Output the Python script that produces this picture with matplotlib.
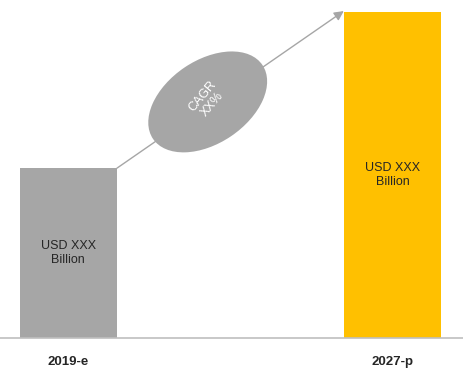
import matplotlib.pyplot as plt
from matplotlib.patches import Ellipse
from matplotlib.transforms import IdentityTransform

years = ['2019-e', '2027-p']
values = [100, 192]
bar_labels = ['USD XXX\nBillion', 'USD XXX\nBillion']
bar_colors = ['#A6A6A6', '#FFC000']
cagr_label = 'CAGR\nXX%'

plt.rcParams['font.family'] = ['Liberation Sans', 'DejaVu Sans']

fig = plt.figure(figsize=(4.64, 3.83), dpi=100)
ax = fig.add_axes([0, 45 / 383, 1, 338 / 383])

x = [0, 1]
width = 0.3
ax.bar(x, values, width=width, color=bar_colors, zorder=2)
for xi, v, lab in zip(x, values, bar_labels):
    ax.text(xi, v / 2, lab, ha='center', va='center', fontsize=9,
            color='#262626', linespacing=1.3)

ax.set_xlim(-0.211, 1.221)
ax.set_ylim(0, 199)

# growth arrow between bar tops
ax.annotate('', xy=(1 - width / 2, values[1] + 0.5), xytext=(width / 2, values[0]),
            arrowprops=dict(arrowstyle='-|>', color='#A6A6A6', lw=1,
                            mutation_scale=14, shrinkA=0, shrinkB=0), zorder=3)

fig.canvas.draw()
cx, cy = ax.transData.transform((0.43, 139))
ell = Ellipse((cx, cy), 132, 83, angle=34, facecolor='#A6A6A6',
              edgecolor='none', transform=IdentityTransform(), zorder=4)
ax.add_artist(ell)
ax.text(0.43, 140, cagr_label, ha='center', va='center', rotation=50,
        fontsize=9, color='white', zorder=5, linespacing=1.1,
        family=['Liberation Sans Narrow', 'Liberation Sans', 'DejaVu Sans'])

ax.set_xticks(x)
ax.set_xticklabels(years, fontsize=9.5, fontweight='bold', color='#262626')
ax.tick_params(axis='x', length=0, pad=13)
ax.set_yticks([])
for s in ['top', 'left', 'right']:
    ax.spines[s].set_visible(False)
ax.spines['bottom'].set_color('#BFBFBF')
ax.spines['bottom'].set_linewidth(1.2)

fig.savefig('out.png', dpi=100)
